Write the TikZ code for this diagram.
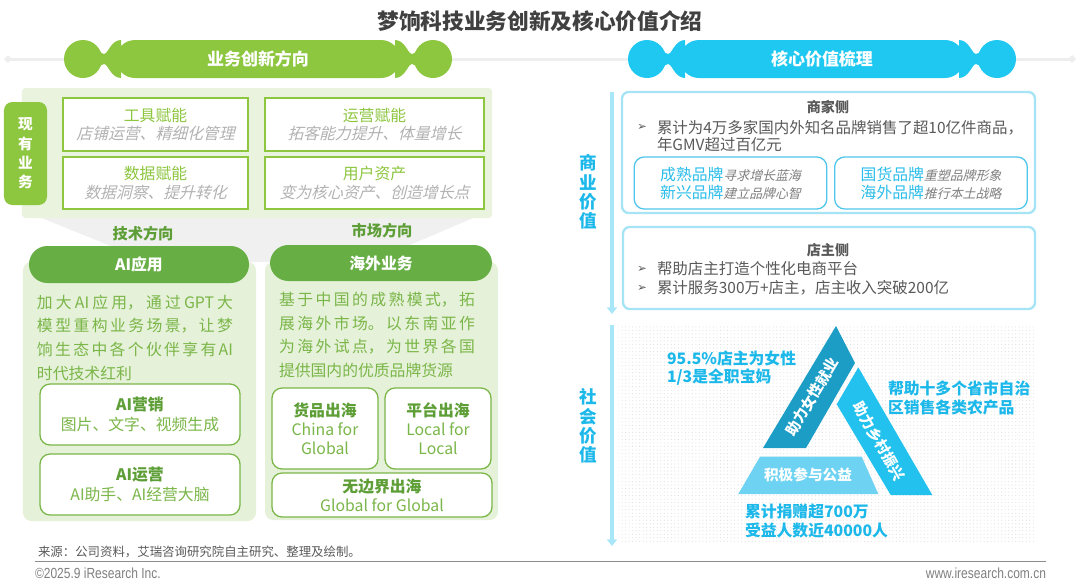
\documentclass[tikz,border=0pt]{standalone}
\usepackage{fontspec}
\setmainfont{Noto Sans CJK SC}
\newfontfamily\slantcjk{Noto Sans CJK SC}[FakeSlant=0.25]
\newfontfamily\dingfont{DejaVu Sans}
\newfontfamily\footfont{Liberation Sans}[FakeStretch=0.82]
\usetikzlibrary{positioning, patterns, arrows.meta}
\usepackage{xcolor}
\XeTeXlinebreaklocale "zh"
\XeTeXlinebreakskip=0pt plus 2pt minus 0.3pt

\definecolor{bannergreen}{HTML}{8DC63F}
\definecolor{pillgreen}{HTML}{67AE45}
\definecolor{panelgreen}{HTML}{E9F3DE}
\definecolor{colgreen}{HTML}{E6F1D9}
\definecolor{textgreen}{HTML}{7AB648}
\definecolor{boldgreen}{HTML}{5E9E36}
\definecolor{subgray}{HTML}{B2B2B2}
\definecolor{notegray}{HTML}{7F7F7F}
\definecolor{titlegray}{HTML}{404040}
\definecolor{bodygray}{HTML}{595959}
\definecolor{footgray}{HTML}{7F7F7F}
\definecolor{linegray}{HTML}{EEEEEE}
\definecolor{funnelgray}{HTML}{F0F0F0}
\definecolor{bannerblue}{HTML}{1FC8F0}
\definecolor{lineblue}{HTML}{A8E6F8}
\definecolor{boxblue}{HTML}{A6E3F5}
\definecolor{innerblue}{HTML}{4FC6EC}
\definecolor{textblue}{HTML}{1CB8EA}
\definecolor{brandblue}{HTML}{2BBDEB}
\definecolor{tealdark}{HTML}{1C9DC6}
\definecolor{midblue}{HTML}{22C1EE}
\definecolor{lightcyan}{HTML}{6ED3F2}

\begin{document}
\begin{tikzpicture}[x=0.3mm, y=-0.3mm,
    every node/.style={inner sep=0pt, outer sep=0pt},
    headline/.style={draw=linegray, line width=0.9mm, {Diamond[width=2.4mm,length=2.4mm]}-{Diamond[width=2.4mm,length=2.4mm]}},
    bannertext/.style={text=white, font=\bfseries\fontsize{14.5}{16}\selectfont, minimum width=85.2mm, minimum height=11.4mm, rounded corners=5.7mm},
    cell/.style={draw=bannergreen, line width=1.2pt, fill=white, align=center, text=bannergreen, font=\fontsize{13.5}{16.2}\selectfont},
    dirlabel/.style={text=boldgreen, font=\bfseries\fontsize{13}{15}\selectfont},
    column/.style={fill=colgreen, rounded corners=2.5mm, minimum width=69.9mm},
    pill/.style={fill=pillgreen, rounded corners=5.5mm, text=white, font=\bfseries\fontsize{13.5}{15}\selectfont},
    bodytext/.style={text=textgreen, font=\fontsize{13.5}{20.2}\selectfont, text width=58.8mm, align=justify},
    subbox/.style={draw=textgreen, line width=1.1pt, fill=white, rounded corners=3mm, align=center, text=textgreen, font=\fontsize{13.5}{16.4}\selectfont},
    valuebox/.style={draw=boxblue, line width=2pt, fill=white, rounded corners=2mm},
    brandbox/.style={draw=innerblue, line width=1.1pt, rounded corners=3mm, align=center, text=brandblue, font=\fontsize{13.5}{15.3}\selectfont, minimum width=57.8mm, minimum height=15.6mm},
    sidetitle/.style={text=bodygray, font=\bfseries\fontsize{12}{14}\selectfont},
    bullet/.style={text=bodygray, font=\dingfont\fontsize{10}{12}\selectfont},
    bullettext/.style={text=bodygray, font=\fontsize{13.2}{14.8}\selectfont, align=left, anchor=west},
    vlabel/.style={text=textblue, font=\bfseries\fontsize{15}{16.5}\selectfont, align=center},
    flowline/.style={draw=lineblue, line width=1.2mm, -{Triangle[width=3mm,length=2mm]}},
    piece/.style={text=white, font=\bfseries\fontsize{12.5}{15}\selectfont},
    note/.style={text=textblue, font=\bfseries\fontsize{13.5}{15.5}\selectfont, align=left, anchor=west},
    foot/.style={text=footgray, font=\footfont\fontsize{12.5}{14}\selectfont}
]
\useasboundingbox (0,0) rectangle (1080,587);

% 标题
\node[font=\bfseries\fontsize{18.5}{20}\selectfont, text=titlegray] (title) at (540,21) {梦饷科技业务创新及核心价值介绍};

% 分栏标题
\coordinate (lineStart) at (4,59);
\coordinate (lineEnd) at (1076,59);
\draw[headline] (lineStart) -- (lineEnd);
\foreach \cx/\dir/\col in {83/1/bannergreen, 433/-1/bannergreen, 647/1/bannerblue, 997/-1/bannerblue} {
    \fill[\col] (\cx,59) circle[radius=19];
    \fill[\col, shift={(\cx,59)}, xscale=\dir] (8,-17.2) .. controls (15,-12) and (17,-5) .. (21,-5) .. controls (25,-5) and (28,-19) .. (38,-19) -- (38,19) .. controls (28,19) and (25,5) .. (21,5) .. controls (17,5) and (15,12) .. (8,17.2) -- cycle;
}
\node[bannertext, fill=bannergreen] (bizBanner) at (258,59) {业务创新方向};
\node[bannertext, fill=bannerblue] (valueBanner) at (822,59) {核心价值梳理};

% 现有业务
\fill[funnelgray] (22,210) -- (492,210) -- (370,262) -- (150,262) -- cycle;
\node[fill=panelgreen, rounded corners=1mm, minimum width=141mm, minimum height=39mm] (current) at (257,153) {};
\node[fill=bannergreen, rounded corners=2.5mm, minimum width=12.9mm, minimum height=30.9mm, text=white, align=center, font=\bfseries\fontsize{12.5}{16.6}\selectfont] (currentTag) at (25.5,153.5) {现\\有\\业\\务};
\node[cell, minimum width=55.5mm, minimum height=15.9mm] (tools) at (155.5,124.5) {工具赋能\\{\slantcjk\color{subgray}店铺运营、精细化管理}};
\node[cell, minimum width=65.7mm, minimum height=15.9mm] (operation) at (374.5,124.5) {运营赋能\\{\slantcjk\color{subgray}拓客能力提升、体量增长}};
\node[cell, minimum width=55.5mm, minimum height=15.6mm] (data) at (155.5,183) {数据赋能\\{\slantcjk\color{subgray}数据洞察、提升转化}};
\node[cell, minimum width=65.7mm, minimum height=15.6mm] (userAsset) at (374.5,183) {用户资产\\{\slantcjk\color{subgray}变为核心资产、创造增长点}};

\node[dirlabel] (techDir) at (143,234) {技术方向};
\node[dirlabel] (marketDir) at (382,231) {市场方向};

% 技术方向
\node[column, minimum height=77.7mm] (techCol) at (139.5,391.5) {};
\node[pill, minimum width=66mm, minimum height=11.1mm] (aiPill) at (139,264.5) {AI应用};
\node[bodytext] (aiText) at (135,337.5) {加大AI应用，通过GPT大\linebreak 模型重构业务场景，让梦\linebreak 饷生态中各个伙伴享有AI\linebreak 时代技术红利};
\node[subbox, minimum width=60mm, minimum height=18.3mm] (aiMarketing) at (140,414.5) {{\bfseries\color{boldgreen}AI营销}\\图片、文字、视频生成};
\node[subbox, minimum width=60mm, minimum height=18.3mm] (aiOperation) at (140,484.5) {{\bfseries\color{boldgreen}AI运营}\\AI助手、AI经营大脑};

% 市场方向
\node[column, minimum height=77.4mm] (marketCol) at (381.5,391) {};
\node[pill, minimum width=66.6mm, minimum height=10.8mm] (overseaPill) at (381,263) {海外业务};
\node[bodytext] (overseaText) at (377,335) {基于中国的成熟模式，拓\linebreak 展海外市场。以东南亚作\linebreak 为海外试点，为世界各国\linebreak 提供国内的优质品牌货源};
\node[subbox, minimum width=31.8mm, minimum height=24.3mm] (goodsOut) at (325,428.5) {{\bfseries\color{boldgreen}货品出海}\\China for\\Global};
\node[subbox, minimum width=31.8mm, minimum height=24.3mm] (platformOut) at (438,428.5) {{\bfseries\color{boldgreen}平台出海}\\Local for\\Local};
\node[subbox, minimum width=66mm, minimum height=13.2mm] (borderless) at (382,495) {{\bfseries\color{boldgreen}无边界出海}\\Global for Global};

% 商业价值
\coordinate (bizTop) at (612,92);
\coordinate (bizEnd) at (612,314);
\draw[flowline] (bizTop) -- (bizEnd);
\node[vlabel] (bizLabel) at (588,192) {商\\业\\价\\值};

\node[valuebox, minimum width=123.9mm, minimum height=36.3mm] (merchant) at (828.5,152.5) {};
\node[sidetitle] (merchantTitle) at (828,107) {商家侧};
\node[bullet] (mBullet) at (642,127) {➢};
\node[bullettext] (mText) at (657,136) {累计为4万多家国内外知名品牌销售了超10亿件商品，\\年GMV超过百亿元};
\node[brandbox] (brandA) at (730.5,183) {成熟品牌{\slantcjk\fontsize{11}{15.3}\selectfont\color{notegray}寻求增长蓝海}\\新兴品牌{\slantcjk\fontsize{11}{15.3}\selectfont\color{notegray}建立品牌心智}};
\node[brandbox] (brandB) at (931,183) {国货品牌{\slantcjk\fontsize{11}{15.3}\selectfont\color{notegray}重塑品牌形象}\\海外品牌{\slantcjk\fontsize{11}{15.3}\selectfont\color{notegray}推行本土战略}};

\node[valuebox, minimum width=123.6mm, minimum height=24.6mm] (owner) at (829,268) {};
\node[sidetitle] (ownerTitle) at (828,250) {店主侧};
\node[bullet] (oBullet1) at (642,269) {➢};
\node[bullettext] (oText1) at (657,269) {帮助店主打造个性化电商平台};
\node[bullet] (oBullet2) at (642,288) {➢};
\node[bullettext] (oText2) at (657,288) {累计服务300万+店主，店主收入突破200亿};

% 社会价值
\node[pattern=dots, pattern color=black!12, minimum width=124.5mm, minimum height=65.4mm] (socialBg) at (826,434) {};
\coordinate (socTop) at (612,325);
\coordinate (socEnd) at (612,546);
\draw[flowline] (socTop) -- (socEnd);
\node[vlabel] (socLabel) at (588,426) {社\\会\\价\\值};

\fill[tealdark] (836,326) -- (855,363) -- (806,448) -- (763,448) -- cycle;
\fill[midblue] (858.3,367.3) -- (932.3,495) -- (890.7,495) -- (836.7,404.3) -- cycle;
\fill[lightcyan] (760,456.7) -- (861.7,456.7) -- (878.3,494) -- (738.3,494) -- cycle;
\node[piece, rotate=59] (women) at (812,397) {助力女性就业};
\node[piece, rotate=-60] (rural) at (879,441) {助力乡村振兴};
\node[piece] (charity) at (808,475) {积极参与公益};

\node[note] (womenNote) at (667,368) {95.5\%店主为女性\\1/3是全职宝妈};
\node[note] (ruralNote) at (888,398) {帮助十多个省市自治\\区销售各类农产品};
\node[note] (charityNote) at (745,521) {累计捐赠超700万\\受益人数近40000人};

% 页脚
\node[anchor=west, text=bodygray, font=\fontsize{10.6}{12}\selectfont] (source) at (38,552) {来源：公司资料，艾瑞咨询研究院自主研究、整理及绘制。};
\coordinate (footL) at (35,561);
\coordinate (footR) at (1046,561);
\draw[black!45, line width=0.4pt] (footL) -- (footR);
\node[foot, anchor=west] (copyright) at (35,573) {©2025.9 iResearch Inc.};
\node[foot, anchor=east] (website) at (1046,573) {www.iresearch.com.cn};
\end{tikzpicture}
\end{document}
